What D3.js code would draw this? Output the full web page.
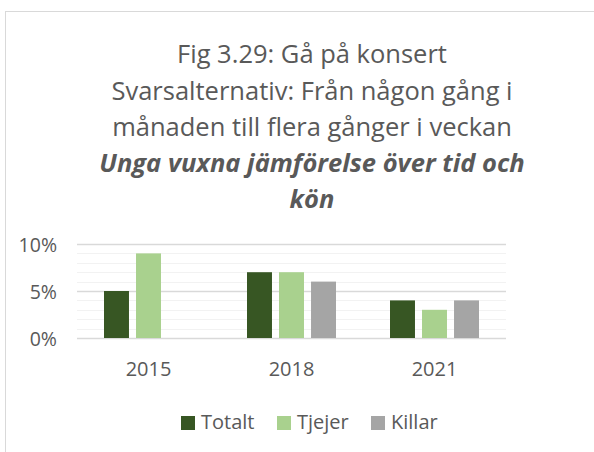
<!DOCTYPE html>
<html>
  <head>
    <meta charset="UTF-8">
    <title>Fig 3.29: Gå på konsert</title>
    <script src="https://d3js.org/d3.v7.min.js"></script>
    <style type="text/css">
      body {
        margin: 0px;
        padding: 0px;
        background: #ffffff;
      }
      svg text {
        font-family: "Open Sans", sans-serif;
        fill: #595959;
      }
    </style>
  </head>
  <body>
    <div id="chart"></div>
    <script>
      const years = ['2015', '2018', '2021'];
      const seriesNames = ['Totalt', 'Tjejer', 'Killar'];
      const totalt = [5, 7, 4];
      const tjejer = [9, 7, 3];
      const killar = [null, 6, 4];
      const seriesColors = ['#375623', '#a9d18e', '#a5a5a5'];
      const yTicks = [0, 5, 10];
      const titleLines = [
        'Fig 3.29: Gå på konsert',
        'Svarsalternativ: Från någon gång i',
        'månaden till flera gånger i veckan'
      ];
      const subtitleLines = [
        'Unga vuxna jämförelse över tid och',
        'kön'
      ];

      const width = 594, height = 452;
      const plot = { left: 77, right: 506, top: 244, bottom: 338 };
      const seriesValues = [totalt, tjejer, killar];

      const svg = d3.select('#chart').append('svg')
        .attr('width', width)
        .attr('height', height);

      // chart frame
      svg.append('rect')
        .attr('x', 5.5).attr('y', 11.5)
        .attr('width', 620).attr('height', 460)
        .attr('fill', '#ffffff')
        .attr('stroke', '#d9d9d9');

      // title
      const titleX = 312;
      titleLines.forEach((line, i) => {
        svg.append('text')
          .attr('x', titleX).attr('y', 63 + i * 36.5)
          .attr('text-anchor', 'middle')
          .style('font-size', '25.5px')
          .text(line);
      });
      subtitleLines.forEach((line, i) => {
        svg.append('text')
          .attr('x', titleX).attr('y', 172 + i * 36)
          .attr('text-anchor', 'middle')
          .style('font-size', '25.5px')
          .style('font-weight', 'bold')
          .style('font-style', 'italic')
          .text(line);
      });

      const y = d3.scaleLinear().domain([0, 10]).range([plot.bottom, plot.top]);
      const x = d3.scaleBand().domain(years).range([plot.left, plot.right]);
      const inner = d3.scaleBand().domain(seriesNames)
        .range([(x.bandwidth() - 89) / 2, (x.bandwidth() + 89) / 2])
        .paddingInner(0.22);

      // minor gridlines
      svg.append('g').selectAll('line')
        .data(d3.range(1, 10).filter(v => v % 5 !== 0))
        .enter().append('line')
        .attr('x1', plot.left).attr('x2', plot.right)
        .attr('y1', d => Math.round(y(d)) + 0.5).attr('y2', d => Math.round(y(d)) + 0.5)
        .attr('stroke', '#f2f2f2');

      // major gridlines + y labels
      const yAxis = d3.axisLeft(y).tickValues(yTicks)
        .tickSize(-(plot.right - plot.left))
        .tickPadding(20)
        .tickFormat(d => d + '%');
      const yg = svg.append('g')
        .attr('transform', `translate(${plot.left},0)`)
        .call(yAxis);
      yg.select('.domain').remove();
      yg.selectAll('.tick line').attr('stroke', '#d9d9d9').attr('stroke-width', 1.5);
      yg.selectAll('.tick text')
        .style('font-size', '19.5px')
        .attr('fill', '#595959')
        .attr('dy', '0.36em');

      // bars
      seriesNames.forEach((name, s) => {
        svg.append('g').selectAll('rect')
          .data(years.map((yr, i) => ({ yr: yr, v: seriesValues[s][i] })).filter(d => d.v !== null))
          .enter().append('rect')
          .attr('x', d => x(d.yr) + inner(name))
          .attr('width', inner.bandwidth())
          .attr('y', d => y(d.v))
          .attr('height', d => y(0) - y(d.v))
          .attr('fill', seriesColors[s]);
      });

      // x labels
      const xAxis = d3.axisBottom(x).tickSize(0).tickPadding(24);
      const xg = svg.append('g')
        .attr('transform', `translate(0,${plot.bottom})`)
        .call(xAxis);
      xg.select('.domain').remove();
      xg.selectAll('.tick text')
        .style('font-size', '20px')
        .attr('fill', '#595959');

      // legend
      const legendPos = [181, 277, 371];
      const legend = svg.append('g').selectAll('g')
        .data(seriesNames).enter().append('g')
        .attr('transform', (d, i) => `translate(${legendPos[i]},416)`);
      legend.append('rect')
        .attr('width', 14).attr('height', 14)
        .attr('fill', (d, i) => seriesColors[i]);
      legend.append('text')
        .attr('x', 20).attr('y', 13)
        .style('font-size', '20px')
        .text(d => d);
    </script>
  </body>
</html>
